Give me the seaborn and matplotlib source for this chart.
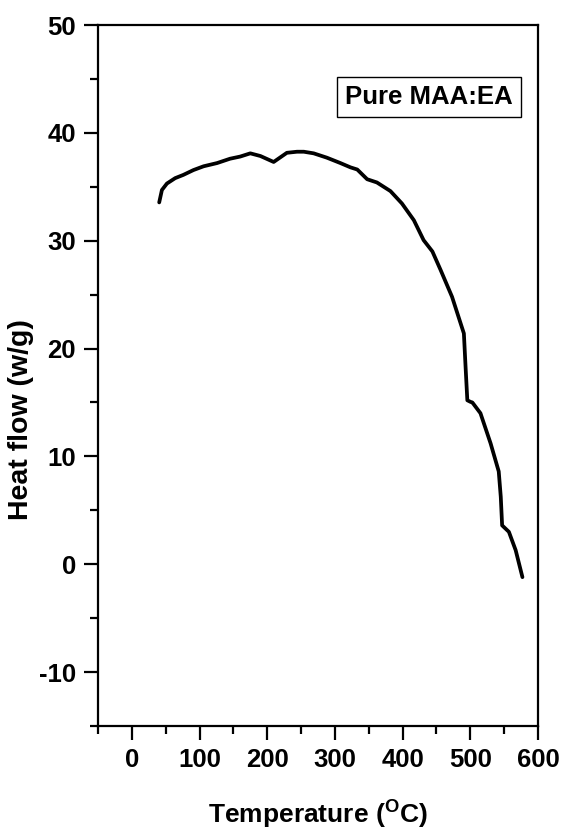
import numpy as np
import pandas as pd
import matplotlib
matplotlib.use("Agg")
import matplotlib.pyplot as plt
from matplotlib.ticker import MultipleLocator
import seaborn as sns

# Data
temperature = [40.4, 44.4, 51.8, 64, 76, 91, 106, 126, 145, 160, 175, 190, 209.5,
               229, 244, 254, 268.6, 288, 308, 323, 333, 347.6, 362, 382, 399,
               416.6, 431, 444, 456, 473, 490.5, 493, 495.6, 500.4, 503, 515,
               530, 542, 545, 547, 557, 567, 577]
heat_flow = [33.55, 34.7, 35.3, 35.8, 36.1, 36.55, 36.9, 37.2, 37.6, 37.8, 38.1,
             37.85, 37.3, 38.15, 38.25, 38.25, 38.1, 37.7, 37.2, 36.8, 36.6,
             35.7, 35.4, 34.6, 33.45, 31.9, 30.05, 29.0, 27.3, 24.8, 21.4,
             18.3, 15.2, 15.05, 15.0, 14.0, 11.2, 8.6, 6.25, 3.6, 3.0, 1.3, -1.2]
x_ticks = [0, 100, 200, 300, 400, 500, 600]
y_ticks = [-10, 0, 10, 20, 30, 40, 50]
legend_text = "Pure MAA:EA"

df = pd.DataFrame({"Temperature": temperature, "HeatFlow": heat_flow})

sns.set_style("ticks")
plt.rcParams["font.family"] = ["Liberation Sans", "DejaVu Sans"]
plt.rcParams["font.weight"] = "bold"
plt.rcParams["mathtext.fontset"] = "custom"
plt.rcParams["mathtext.rm"] = "Liberation Sans:bold"
plt.rcParams["mathtext.bf"] = "Liberation Sans:bold"
plt.rcParams["mathtext.it"] = "Liberation Sans:bold"
plt.rcParams["axes.unicode_minus"] = False
for key in ["text.color", "axes.labelcolor", "xtick.color", "ytick.color",
            "axes.edgecolor"]:
    plt.rcParams[key] = "black"

fig = plt.figure(figsize=(5.61, 8.31), dpi=100)
ax = fig.add_axes([0.1747, 0.1264, 0.7843, 0.8435])

sns.lineplot(data=df, x="Temperature", y="HeatFlow", ax=ax, color="black",
             linewidth=2.7, sort=False, estimator=None)

ax.set_xlim(-50, 600)
ax.set_ylim(-15, 50)
ax.set_xticks(x_ticks)
ax.set_yticks(y_ticks)
ax.xaxis.set_minor_locator(MultipleLocator(50))
ax.yaxis.set_minor_locator(MultipleLocator(5))

for s in ax.spines.values():
    s.set_linewidth(1.6)
    s.set_color("black")

ax.tick_params(which="major", direction="out", length=10, width=1.6,
               labelsize=18.5, pad=6, top=False, right=False, colors="black")
ax.tick_params(which="minor", direction="out", length=5.5, width=1.6,
               top=False, right=False, colors="black")
for lbl in ax.get_xticklabels() + ax.get_yticklabels():
    lbl.set_fontweight("bold")

ax.set_xlabel(r"Temperature ($^{\mathrm{O}}$C)", fontsize=19,
              fontweight="bold", labelpad=19)
ax.set_ylabel("Heat flow (w/g)", fontsize=20.5, fontweight="bold", labelpad=3)
ax.yaxis.label.set_y(0.437)

ax.text(0.752, 0.897, legend_text, transform=ax.transAxes, ha="center",
        va="center", fontsize=18.5, fontweight="bold",
        bbox=dict(boxstyle="square,pad=0.32", facecolor="white",
                  edgecolor="black", linewidth=1.0))

fig.savefig("out.png", dpi=100)
